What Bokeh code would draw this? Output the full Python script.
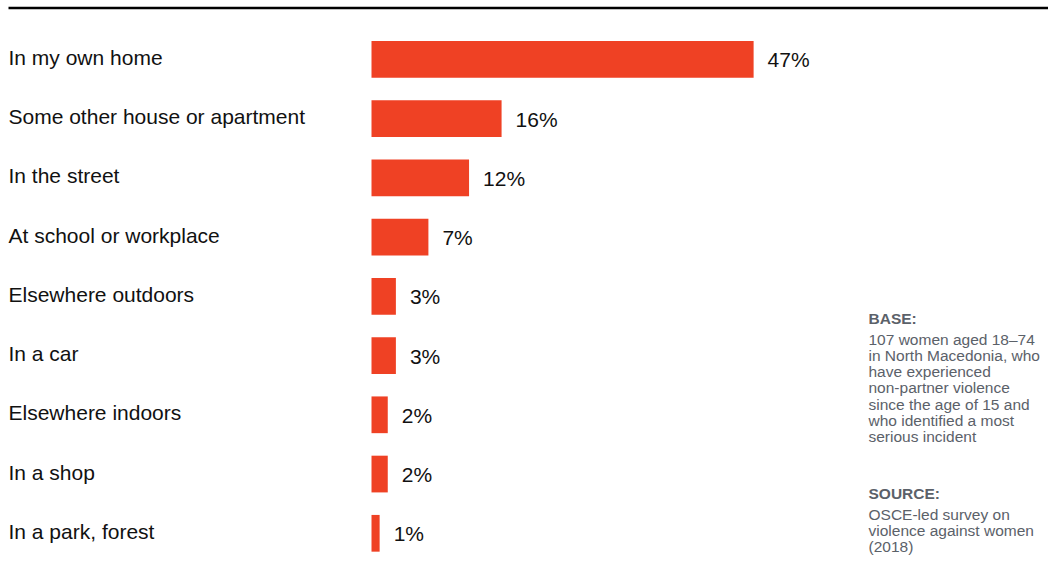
from bokeh.plotting import figure
from bokeh.models import Range1d, ColumnDataSource
from bokeh.core.properties import value
from bokeh.embed import file_html
from bokeh.resources import INLINE

# ---- data ----
categories = [
    "In my own home",
    "Some other house or apartment",
    "In the street",
    "At school or workplace",
    "Elsewhere outdoors",
    "In a car",
    "Elsewhere indoors",
    "In a shop",
    "In a park, forest",
]
values = [47, 16, 12, 7, 3, 3, 2, 2, 1]
value_labels = [f"{v}%" for v in values]

base_title = "BASE:"
base_lines = [
    "107 women aged 18\u201374",
    "in North Macedonia, who",
    "have experienced",
    "non-partner violence",
    "since the age of 15 and",
    "who identified a most",
    "serious incident",
]
source_title = "SOURCE:"
source_lines = [
    "OSCE-led survey on",
    "violence against women",
    "(2018)",
]

# ---- layout constants (pixels) ----
W, H = 1048, 579
PX_PER_PCT = 8.13      # pixels per percentage point
ZERO_PX = 371          # x of the bars' baseline
ROW = 59.25            # pixels per row
FIRST_ROW = 58.8       # y of first row centre

x0 = -ZERO_PX / PX_PER_PCT
x1 = x0 + W / PX_PER_PCT
y_top = -FIRST_ROW / ROW
y_bot = y_top + H / ROW


def dx(px):
    return x0 + px / PX_PER_PCT


def dy(py):
    return y_top + py / ROW


FONT = value("Liberation Sans")
BAR_COLOR = "#EF4124"
NOTE_COLOR = "#5b6169"

p = figure(
    width=W, height=H,
    x_range=Range1d(x0, x1), y_range=Range1d(y_bot, y_top),
    output_backend="svg", toolbar_location=None,
    x_axis_location=None, y_axis_location=None,
    min_border=0,
)
p.grid.visible = False
p.outline_line_color = None
p.background_fill_color = "white"
p.border_fill_color = "white"

ys = list(range(len(categories)))
src = ColumnDataSource(dict(y=ys, v=values, cat=categories, lab=value_labels,
                            xl=[dx(8)] * len(categories)))

p.hbar(y="y", left=0, right="v", height=0.62, source=src,
       fill_color=BAR_COLOR, line_color=None)

p.text(x="xl", y="y", text="cat", source=src, text_font=FONT,
       text_font_size="21px", text_color="#111111",
       text_align="left", text_baseline="middle", y_offset=-2)

p.text(x="v", y="y", text="lab", source=src, text_font=FONT,
       text_font_size="21px", text_color="#111111",
       text_align="left", text_baseline="middle", x_offset=14, y_offset=0.5)

# top rule
p.segment(x0=[dx(8)], x1=[dx(1048)], y0=[dy(7.5)], y1=[dy(7.5)],
          line_color="#000000", line_width=2.6)

# notes
note_x = dx(868)
LH = 16.2
NFS = "15.5px"
p.text(x=[note_x], y=[dy(318.3)], text=[base_title], text_font=FONT,
       text_font_size=NFS, text_font_style="bold", text_color=NOTE_COLOR,
       text_align="left", text_baseline="middle")
p.text(x=[note_x] * len(base_lines),
       y=[dy(338.7 + LH * i) for i in range(len(base_lines))],
       text=base_lines, text_font=FONT, text_font_size=NFS,
       text_color=NOTE_COLOR, text_align="left", text_baseline="middle")
p.text(x=[note_x], y=[dy(493)], text=[source_title], text_font=FONT,
       text_font_size=NFS, text_font_style="bold", text_color=NOTE_COLOR,
       text_align="left", text_baseline="middle")
p.text(x=[note_x] * len(source_lines),
       y=[dy(513.5 + LH * i) for i in range(len(source_lines))],
       text=source_lines, text_font=FONT, text_font_size=NFS,
       text_color=NOTE_COLOR, text_align="left", text_baseline="middle")

open("out.html", "w").write(file_html(p, INLINE))
